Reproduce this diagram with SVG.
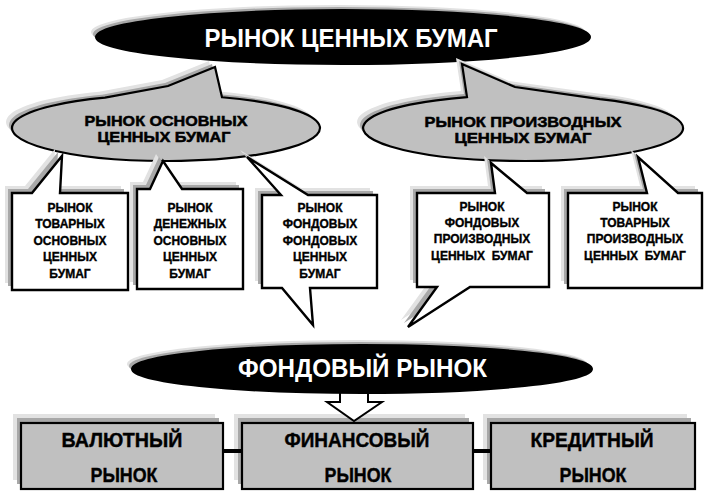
<svg xmlns="http://www.w3.org/2000/svg" width="705" height="493" viewBox="0 0 705 493">
<style>
.sh1{fill:#e2e2e2}
.sh2{fill:#a8a8a8}
.blk{fill:#000;stroke:#000;stroke-width:2}
.gry{fill:#c0c0c0;stroke:#000;stroke-width:2.2}
.wbox{fill:#fff;stroke:#000;stroke-width:2.4}
.title{font-family:"Liberation Sans",Arial,sans-serif;font-weight:bold;font-size:26px;fill:#fff;text-anchor:middle}
.sub{font-family:"Liberation Sans",Arial,sans-serif;font-weight:bold;font-size:14px;fill:#000;text-anchor:middle;stroke:#000;stroke-width:0.5}
.small{font-family:"Liberation Sans",Arial,sans-serif;font-weight:bold;font-size:12px;fill:#000;text-anchor:middle;stroke:#000;stroke-width:0.35;white-space:pre}
.big{font-family:"Liberation Sans",Arial,sans-serif;font-weight:bold;font-size:20px;fill:#000;text-anchor:middle;stroke:#000;stroke-width:0.4}
.con{stroke:#000;stroke-width:4;fill:none}
</style>
<defs>
<path id="cL" d="M105 97.7 L168 86 L215 67 L222 97.26 A154 33 0 1 1 105 97.7 Z"/>
<path id="cR" d="M467 97.1 L462 64 L515 87 L600 99.07 A160 33 0 1 1 467 97.1 Z"/>
<path id="b1" d="M12 193 H32 L62 156 L60 193 H128 V290 H12 Z"/>
<path id="b2" d="M137 189 H150 L163 161 L182 189 H243 V289 H137 Z"/>
<path id="b3" d="M262 195 H281 L247 157 L308 195 H377 V288 H310 L313 325 L282 288 H262 Z"/>
<path id="b4" d="M417 193 H495 L491 163 L527 193 H549 V287 H470 L408 327 L437 287 H417 Z"/>
<path id="b5" d="M568 193 H647 L638 157 L678 193 H702 V288 H568 Z"/>
</defs>

<g id="node-rcb">
<ellipse class="sh1" cx="338" cy="32" rx="247" ry="27"/>
<ellipse class="sh2" cx="340" cy="34" rx="247" ry="27"/>
<ellipse class="blk" cx="343" cy="37" rx="247" ry="27"/>
<text class="title" x="351" y="47" textLength="293" lengthAdjust="spacingAndGlyphs">РЫНОК ЦЕННЫХ БУМАГ</text>
</g>

<g id="node-osn">
<use href="#cL" class="sh1" transform="translate(-6,-6)"/>
<use href="#cL" class="sh2" transform="translate(-3,-3)"/>
<use href="#cL" class="gry"/>
<text class="sub" x="166" y="126" textLength="163" lengthAdjust="spacingAndGlyphs">РЫНОК ОСНОВНЫХ</text>
<text class="sub" x="164" y="142" textLength="133" lengthAdjust="spacingAndGlyphs">ЦЕННЫХ БУМАГ</text>
</g>

<g id="node-proizv">
<use href="#cR" class="sh1" transform="translate(-6,-6)"/>
<use href="#cR" class="sh2" transform="translate(-3,-3)"/>
<use href="#cR" class="gry"/>
<text class="sub" x="523" y="127" textLength="197" lengthAdjust="spacingAndGlyphs">РЫНОК ПРОИЗВОДНЫХ</text>
<text class="sub" x="523" y="143" textLength="137" lengthAdjust="spacingAndGlyphs">ЦЕННЫХ БУМАГ</text>
</g>

<g id="node-tov-osn">
<use href="#b1" class="sh1" transform="translate(-7,-7)"/>
<use href="#b1" class="sh2" transform="translate(-4,-4)"/>
<use href="#b1" class="wbox"/>
<text class="small" x="70" y="212">РЫНОК</text>
<text class="small" x="70" y="228">ТОВАРНЫХ</text>
<text class="small" x="70" y="245">ОСНОВНЫХ</text>
<text class="small" x="70" y="261">ЦЕННЫХ</text>
<text class="small" x="70" y="278">БУМАГ</text>
</g>

<g id="node-den-osn">
<use href="#b2" class="sh1" transform="translate(-7,-7)"/>
<use href="#b2" class="sh2" transform="translate(-4,-4)"/>
<use href="#b2" class="wbox"/>
<text class="small" x="190" y="212">РЫНОК</text>
<text class="small" x="190" y="228">ДЕНЕЖНЫХ</text>
<text class="small" x="190" y="245">ОСНОВНЫХ</text>
<text class="small" x="190" y="261">ЦЕННЫХ</text>
<text class="small" x="190" y="278">БУМАГ</text>
</g>

<g id="node-fond-osn">
<use href="#b3" class="sh1" transform="translate(-7,-7)"/>
<use href="#b3" class="sh2" transform="translate(-4,-4)"/>
<use href="#b3" class="wbox"/>
<text class="small" x="320" y="212">РЫНОК</text>
<text class="small" x="320" y="228">ФОНДОВЫХ</text>
<text class="small" x="320" y="245">ФОНДОВЫХ</text>
<text class="small" x="320" y="261">ЦЕННЫХ</text>
<text class="small" x="320" y="278">БУМАГ</text>
</g>

<g id="node-fond-proizv">
<use href="#b4" class="sh1" transform="translate(-7,-7)"/>
<use href="#b4" class="sh2" transform="translate(-4,-4)"/>
<use href="#b4" class="wbox"/>
<text class="small" x="482" y="211">РЫНОК</text>
<text class="small" x="482" y="227">ФОНДОВЫХ</text>
<text class="small" x="482" y="243">ПРОИЗВОДНЫХ</text>
<text class="small" x="482" y="260">ЦЕННЫХ  БУМАГ</text>
</g>

<g id="node-tov-proizv">
<use href="#b5" class="sh1" transform="translate(-7,-7)"/>
<use href="#b5" class="sh2" transform="translate(-4,-4)"/>
<use href="#b5" class="wbox"/>
<text class="small" x="635" y="211">РЫНОК</text>
<text class="small" x="635" y="227">ТОВАРНЫХ</text>
<text class="small" x="635" y="243">ПРОИЗВОДНЫХ</text>
<text class="small" x="635" y="260">ЦЕННЫХ  БУМАГ</text>
</g>

<g id="node-val">
<rect class="sh1" x="13" y="414" width="202" height="66"/>
<rect class="sh2" x="17" y="418" width="202" height="66"/>
<rect class="gry" x="21" y="423" width="202" height="66"/>
<text class="big" x="122" y="447" textLength="121" lengthAdjust="spacingAndGlyphs">ВАЛЮТНЫЙ</text>
<text class="big" x="124" y="482" textLength="67" lengthAdjust="spacingAndGlyphs">РЫНОК</text>
</g>

<g id="node-fin">
<rect class="sh1" x="234" y="414" width="231" height="66"/>
<rect class="sh2" x="238" y="418" width="231" height="66"/>
<rect class="gry" x="242" y="423" width="231" height="66"/>
<text class="big" x="357" y="447" textLength="145" lengthAdjust="spacingAndGlyphs">ФИНАНСОВЫЙ</text>
<text class="big" x="358" y="482" textLength="67" lengthAdjust="spacingAndGlyphs">РЫНОК</text>
</g>

<g id="node-kred">
<rect class="sh1" x="483" y="414" width="204" height="66"/>
<rect class="sh2" x="487" y="418" width="204" height="66"/>
<rect class="gry" x="491" y="423" width="204" height="66"/>
<text class="big" x="592" y="447" textLength="123" lengthAdjust="spacingAndGlyphs">КРЕДИТНЫЙ</text>
<text class="big" x="593" y="482" textLength="67" lengthAdjust="spacingAndGlyphs">РЫНОК</text>
</g>

<g id="connectors">
<path d="M340 388 H368 V402 H382 L354 421 L327 402 H340 Z" fill="#fff" stroke="#000" stroke-width="2"/>
<line class="con" x1="223" y1="451" x2="242" y2="451"/>
<line class="con" x1="473" y1="451" x2="491" y2="451"/>
</g>

<g id="node-fond">
<ellipse class="sh1" cx="357" cy="364" rx="230" ry="24"/>
<ellipse class="sh2" cx="359" cy="366" rx="230" ry="24"/>
<ellipse class="blk" cx="362" cy="369" rx="230" ry="24"/>
<text class="title" x="362.5" y="377" textLength="249" lengthAdjust="spacingAndGlyphs">ФОНДОВЫЙ РЫНОК</text>
</g>
</svg>
